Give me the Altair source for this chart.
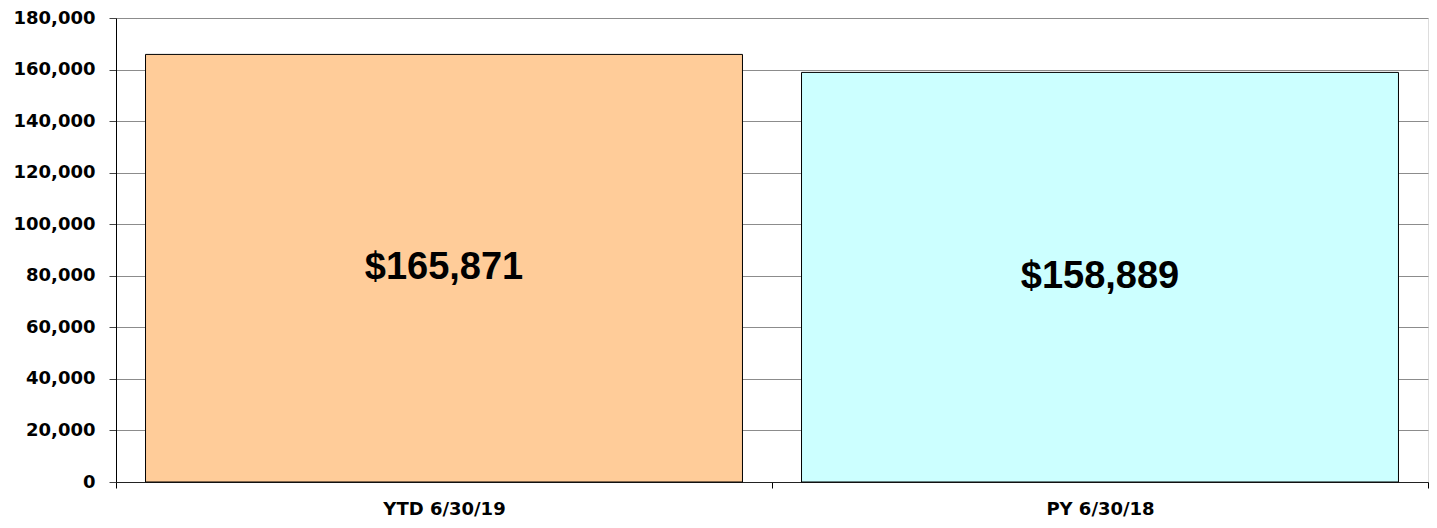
import altair as alt
import pandas as pd

categories = ["YTD 6/30/19", "PY 6/30/18"]
values = [165871, 158889]
colors = ["#FFCC99", "#CCFFFF"]

df = pd.DataFrame({"cat": categories, "value": values, "color": colors})

y_scale = alt.Scale(domain=[0, 180000], nice=False)

bars = alt.Chart(df).mark_bar(stroke="black", strokeWidth=1).encode(
    x=alt.X("cat:N", sort=categories, title=None,
            scale=alt.Scale(paddingInner=0.09, paddingOuter=0.045),
            axis=None),
    y=alt.Y("value:Q", scale=y_scale, title=None,
            axis=alt.Axis(values=list(range(0, 180001, 20000)), format=",d",
                          labelFont="DejaVu Sans", labelFontSize=18, labelFontWeight="bold",
                          labelColor="black", labelPadding=14, tickSize=7, tickColor="#444444",
                          domainColor="black", gridColor="#8c8c8c", gridWidth=1, gridOpacity=1)),
    color=alt.Color("color:N", scale=None),
)

labels = alt.Chart(df).transform_calculate(
    mid="datum.value / 2",
    txt="'$' + format(datum.value, ',d')",
).mark_text(font="Liberation Sans", fontSize=38, fontWeight="bold", color="black").encode(
    x=alt.X("cat:N", sort=categories, title=None,
            scale=alt.Scale(paddingInner=0, paddingOuter=0),
            axis=alt.Axis(labelAngle=0, tickBand="extent", labelFont="DejaVu Sans",
                          labelFontSize=18, labelFontWeight="bold", labelColor="black",
                          labelPadding=12, tickSize=6, tickColor="black", domainColor="#222222",
                          grid=False)),
    y=alt.Y("mid:Q", scale=y_scale),
    text="txt:N",
)

chart = alt.layer(bars, labels).resolve_scale(x="independent").properties(
    width=1312, height=464,
    autosize=alt.AutoSizeParams(type="none"),
    padding={"left": 108, "top": 10, "right": 1, "bottom": 38},
).configure_view(stroke="#333333", strokeWidth=1).configure(background="white")

chart.save("out.html", embed_options={"renderer": "svg", "actions": False})
